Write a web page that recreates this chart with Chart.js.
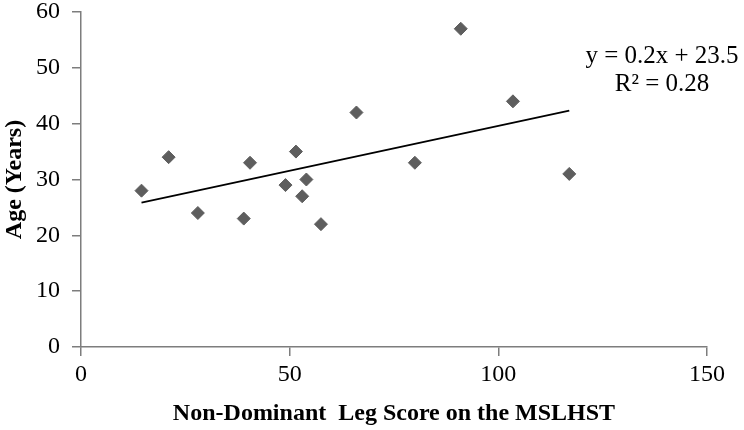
<!DOCTYPE html>
<html>
<head>
<meta charset="utf-8">
<script src="https://cdn.jsdelivr.net/npm/chart.js@4"></script>
<style>
  html, body { margin: 0; padding: 0; background: #fff; }
  #wrap { width: 744px; height: 430px; }
</style>
</head>
<body>
<div id="wrap"><canvas id="scatterChart" width="744" height="430"></canvas></div>
<script>
// Non-dominant leg score vs age, with linear trendline

const legScores = [14.5, 21, 28, 39, 40.5, 49, 51.5, 53, 54, 57.5, 66, 80, 91, 103.5, 117];
const ages = [28, 34, 24, 23, 33, 29, 35, 27, 30, 22, 42, 33, 57, 44, 31];
const xTicks = [0, 50, 100, 150];
const yTicks = [0, 10, 20, 30, 40, 50, 60];
const trendLabels = ['y = 0.2x + 23.5', 'R\u00B2 = 0.28'];

const FONT = '"Liberation Serif", "Times New Roman", serif';

// least squares fit for the trendline
const fitLine = (xs, ys) => {
  const n = xs.length;
  const mx = xs.reduce((s, v) => s + v, 0) / n;
  const my = ys.reduce((s, v) => s + v, 0) / n;
  let num = 0;
  let den = 0;
  xs.forEach((x, i) => {
    num += (x - mx) * (ys[i] - my);
    den += (x - mx) * (x - mx);
  });
  const slope = num / den;
  return { slope, intercept: my - slope * mx };
};

const fit = fitLine(legScores, ages);
const xMin = Math.min(...legScores);
const xMax = Math.max(...legScores);
const trendPoints = [
  { x: xMin, y: fit.slope * xMin + fit.intercept },
  { x: xMax, y: fit.slope * xMax + fit.intercept },
];

const equationPlugin = {
  id: 'equationText',
  afterDraw(chart) {
    const ctx = chart.ctx;
    ctx.save();
    ctx.fillStyle = '#000';
    ctx.font = '25px ' + FONT;
    ctx.textAlign = 'center';
    ctx.textBaseline = 'middle';
    ctx.fillText(trendLabels[0], 662, 56);
    ctx.fillText(trendLabels[1], 662, 84);
    ctx.restore();
  },
};

const axisGrid = {
  display: true,
  drawOnChartArea: false,
  drawTicks: true,
  tickLength: 9,
  tickColor: '#7d7d7d',
  tickWidth: 1.5,
  color: '#7d7d7d',
  lineWidth: 1.5,
};

new Chart(document.getElementById('scatterChart').getContext('2d'), {
  type: 'scatter',
  data: {
    datasets: [
      {
        label: 'Age',
        data: legScores.map((x, i) => ({ x, y: ages[i] })),
        pointStyle: 'rectRot',
        pointRadius: 6.5,
        backgroundColor: '#5e5e5e',
        borderColor: '#5e5e5e',
        borderWidth: 1,
      },
      {
        type: 'line',
        label: 'Linear',
        data: trendPoints,
        borderColor: '#000',
        borderWidth: 1.8,
        pointRadius: 0,
        fill: false,
      },
    ],
  },
  options: {
    responsive: false,
    animation: false,
    layout: { padding: { top: 12, right: 37, left: 0, bottom: 0 } },
    plugins: {
      legend: { display: false },
      tooltip: { enabled: false },
    },
    scales: {
      x: {
        type: 'linear',
        min: 0,
        max: 150,
        afterBuildTicks: (scale) => { scale.ticks = xTicks.map((v) => ({ value: v })); },
        afterFit: (scale) => {
          scale.height = 83;
          scale.paddingLeft = 0;
          scale.paddingRight = 0;
        },
        grid: axisGrid,
        border: { display: true, color: '#7d7d7d', width: 1.5 },
        ticks: {
          color: '#000',
          font: { family: FONT, size: 24 },
          padding: 4,
        },
        title: {
          display: true,
          text: 'Non-Dominant  Leg Score on the MSLHST',
          color: '#000',
          font: { family: FONT, size: 24, weight: 'bold' },
          padding: { top: 0, bottom: 2 },
        },
      },
      y: {
        type: 'linear',
        min: 0,
        max: 60,
        afterBuildTicks: (scale) => { scale.ticks = yTicks.map((v) => ({ value: v })); },
        afterFit: (scale) => {
          scale.width = 81;
          scale.paddingTop = 0;
          scale.paddingBottom = 0;
        },
        grid: axisGrid,
        border: { display: true, color: '#7d7d7d', width: 1.5 },
        ticks: {
          color: '#000',
          font: { family: FONT, size: 24 },
          padding: 12,
        },
        title: {
          display: true,
          text: 'Age (Years)',
          color: '#000',
          font: { family: FONT, size: 24, weight: 'bold' },
          padding: { top: 0, bottom: 0 },
        },
      },
    },
  },
  plugins: [equationPlugin],
});
</script>
</body>
</html>
